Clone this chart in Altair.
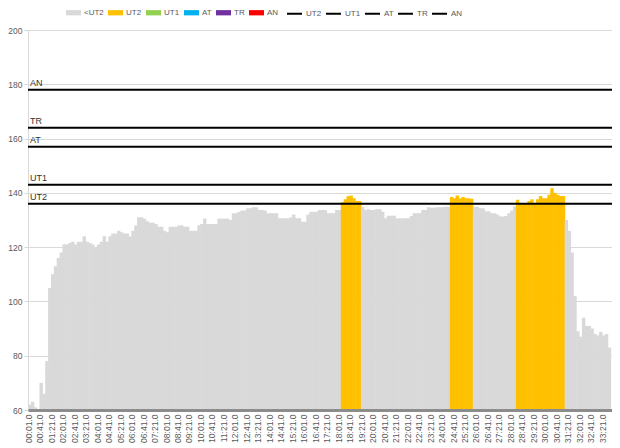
import altair as alt
import pandas as pd

# heart rate, one value every 10 s, starting at 0 s
hr = [
    62, 63, 61, 60, 70, 66,
    78, 105, 110, 113, 116, 118,
    121, 121, 121.5, 122, 121, 122,
    122, 124, 122, 121.5, 121, 120,
    121, 122, 124, 122, 124, 125,
    125, 126, 125.5, 125, 125, 124,
    126, 128, 131, 131, 130.5, 129.5,
    129, 129, 128.5, 127.5, 127.5, 126,
    125.5, 127.5, 127.5, 127.5, 128, 128,
    127.5, 127.5, 126, 126, 126, 128,
    128.5, 130.5, 128.5, 128.5, 128.5, 128.5,
    130.5, 130.5, 130.5, 130.5, 130, 132.5,
    132.5, 133, 133.5, 133.5, 134.3, 134.3,
    134.7, 134.7, 133.7, 133.7, 133.5, 132.5,
    132.5, 132.5, 132.5, 130.6, 130.6, 130.6,
    130.6, 131, 132, 130.6, 130.6, 129.4,
    129.4, 132, 133, 133, 133, 133.7,
    133.7, 133.7, 132.5, 132.5, 132.5, 133.7,
    133.7, 136.5, 137.6, 138.8, 139, 138,
    137, 137, 134.9, 133.7, 134, 133.7,
    133.7, 134, 134, 133, 130.6, 131.6,
    131.6, 131.6, 130.6, 130.6, 130.6, 130.6,
    130.6, 131.5, 132.5, 132.5, 132.5, 133.7,
    133.7, 134.7, 134.5, 134.5, 134.7, 134.7,
    134.7, 134.9, 134.9, 138.5, 138, 139,
    138, 138.5, 138, 138, 137.8, 134.9,
    134.9, 134.3, 134.3, 133.2, 133.2, 132.5,
    132.5, 132, 131.3, 131.3, 131.5, 132.5,
    133.5, 135, 137.5, 136, 136, 136,
    137, 137.6, 136, 137.6, 138.8, 138,
    138, 139.3, 141.7, 140, 139.3, 138.8,
    138.8, 130, 126, 118, 102, 89,
    87, 94, 91, 91, 90, 88,
    87.5, 88.8, 87.5, 88, 83,
]
sample_step = 10
# time spans (s) classified in the UT2 zone
ut2_segments = [(1090, 1160), (1470, 1550), (1700, 1870)]

zone_names = ["<UT2", "UT2", "UT1", "AT", "TR", "AN"]
zone_colors = ["#d9d9d9", "#ffc000", "#92d050", "#00b0f0", "#7030a0", "#ff0000"]

threshold_names = ["UT2", "UT1", "AT", "TR", "AN"]
threshold_values = [136, 143, 157, 164, 178]

tick_times = list(range(1, 2002, 40))
y_ticks = list(range(60, 201, 20))

times = [i * sample_step for i in range(len(hr))]
zones = []
for t in times:
    z = "<UT2"
    for a, b in ut2_segments:
        if a <= t < b:
            z = "UT2"
    zones.append(z)

df = pd.DataFrame({"t": times, "hr": hr, "zone": zones})
thr = pd.DataFrame({"name": threshold_names, "value": threshold_values})

FONT = "Liberation Sans"
label_expr = ("(floor(datum.value/60) < 10 ? '0' : '') + floor(datum.value/60) + ':' + "
              "(datum.value % 60 < 10 ? '0' : '') + (datum.value % 60) + '.0'")

xscale = alt.Scale(domain=[0, 2035], nice=False, zero=False)
yscale = alt.Scale(domain=[60, 200], nice=False, zero=False)

bars = alt.Chart(df).transform_calculate(
    t2="datum.t + 12"
).mark_rect().encode(
    x=alt.X("t:Q", scale=xscale, axis=alt.Axis(
        values=tick_times, labelExpr=label_expr, labelAngle=270, labelFontSize=8.5,
        labelColor="#595959", labelFont=FONT, ticks=False, grid=False,
        domainColor="#8c8c8c", domainWidth=3, labelOverlap=False, title=None,
        labelPadding=4, labelAlign="right", labelBaseline="middle", zindex=1)),
    x2="t2:Q",
    y=alt.Y("hr:Q", scale=yscale, axis=alt.Axis(
        values=y_ticks, labelFontSize=8.5, labelColor="#595959", labelFont=FONT,
        tickSize=4, tickColor="#d9d9d9", domainColor="#d9d9d9", gridColor="#d9d9d9",
        labelPadding=2, title=None)),
    y2=alt.datum(60),
    fill=alt.Fill("zone:N", scale=alt.Scale(domain=zone_names, range=zone_colors),
                  legend=alt.Legend(
                      title=None, orient="none", direction="horizontal",
                      legendX=38, legendY=-25, padding=0,
                      symbolType="M-1,-0.35H1V0.35H-1Z", symbolSize=225,
                      symbolStrokeWidth=0, labelFontSize=8, labelFont=FONT,
                      labelColor="#595959", labelOffset=3, columnPadding=4)),
)

rules = alt.Chart(thr).mark_rule(strokeWidth=2).encode(
    y=alt.Y("value:Q", scale=yscale),
    stroke=alt.Stroke("name:N", scale=alt.Scale(domain=threshold_names, range=["#000000"] * 5),
                      legend=alt.Legend(
                          title=None, orient="none", direction="horizontal",
                          legendX=258, legendY=-25, padding=0,
                          symbolType="stroke", symbolSize=225, symbolStrokeWidth=2,
                          labelFontSize=8, labelFont=FONT, labelColor="#595959",
                          labelOffset=3, columnPadding=0)),
)

labels = alt.Chart(thr).mark_text(align="left", baseline="bottom", dy=-2, fontSize=9,
                                  font=FONT, color="#333333").encode(
    y=alt.Y("value:Q", scale=yscale),
    x=alt.value(2),
    text="name:N",
)

chart = alt.layer(bars, rules, labels).properties(
    width=584, height=380,
    autosize=alt.AutoSizeParams(type="none"),
    padding={"left": 20, "top": 22, "right": 0, "bottom": 40},
    background="white",
).configure_view(stroke="transparent")

chart.save("out.html", embed_options={"renderer": "svg", "actions": False})
